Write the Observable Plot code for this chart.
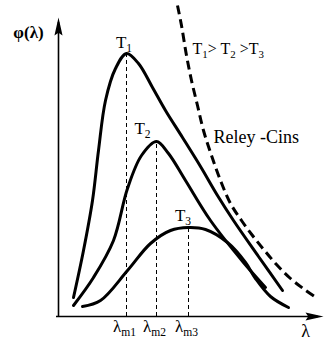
<!DOCTYPE html>
<html>
<head>
<meta charset="utf-8">
<script src="https://cdn.jsdelivr.net/npm/d3@7"></script>
<script src="https://cdn.jsdelivr.net/npm/@observablehq/plot@0.6"></script>
<style>
  html, body { margin: 0; padding: 0; background: #fff; }
  #chart svg { display: block; }
</style>
</head>
<body>
<div id="chart"></div>
<script>
// Planck radiation curves φ(λ) at three temperatures T1 > T2 > T3,
// with the Rayleigh–Jeans curve (dashed) for comparison. Units are arbitrary.
const temperatures = ["T_1", "T_2", "T_3"];
const peakLambda = [6.8, 9.8, 13.0];
const peakPhi = [26.3, 17.5, 8.9];
const peakTicks = ["λ_m1", "λ_m2", "λ_m3"];

// temperature label anchors (λ, φ)
const tempLabelLambda = [6.55, 8.4, 12.45];
const tempLabelPhi = [26.9, 18.3, 9.6];

const curveT1 = [
  [1.5, 1.9], [2.5, 6.6], [3.4, 11.6], [4.0, 16.6], [4.7, 21.6], [5.7, 24.8],
  [6.8, 26.3], [8.0, 25.3], [9.4, 22.9], [10.7, 20.6], [12.4, 17.9],
  [14.2, 15.0], [15.9, 12.1], [17.5, 9.6], [20.0, 6.0], [22.4, 2.6]
];
const curveT2 = [
  [1.5, 1.1], [3.5, 3.9], [5.5, 7.6], [6.9, 12.8], [8.3, 16.1], [9.8, 17.5],
  [11.0, 16.3], [12.7, 13.6], [15.2, 9.6], [18.5, 5.4], [20.7, 2.9]
];
const curveT3 = [
  [2.4, 1.0], [4.2, 1.6], [6.9, 4.6], [9.2, 7.3], [11.2, 8.6], [13.0, 8.9],
  [14.7, 8.7], [16.9, 7.4], [18.7, 5.4], [19.7, 3.8], [21.2, 2.0], [23.0, 0.9]
];
const rayleighJeans = [
  [11.9, 31.1], [12.3, 29.1], [12.8, 26.1], [13.3, 23.6], [13.9, 21.1],
  [14.5, 18.6], [15.3, 16.1], [16.2, 13.6], [17.2, 11.3], [18.3, 9.6],
  [19.4, 8.1], [20.6, 6.6], [21.8, 5.2], [23.2, 3.8], [24.6, 2.7], [25.9, 1.8]
];
const rayleighLabel = "Reley -Cins";
const orderLabel = "T_1> T_2 >T_3";
const xAxisLabel = "λ";
const yAxisLabel = "φ(λ)";

const xEnd = 26.5;   // arrow tip of the λ axis
const yEnd = 29.9;   // arrow tip of the φ axis

// narrow filled arrowhead, tip at the origin, body pointing down
const arrowHead = {
  draw(context, size) {
    const r = Math.sqrt(size / Math.PI);
    context.moveTo(0, 0);
    context.lineTo(r * 0.45, r * 2);
    context.lineTo(0, r * 1.7);
    context.lineTo(-r * 0.45, r * 2);
    context.closePath();
  }
};

const serif = "Liberation Serif, Times New Roman, serif";
const curveStyle = {curve: "catmull-rom", stroke: "black", strokeWidth: 3};

const chart = Plot.plot({
  width: 324,
  height: 342,
  marginLeft: 58,
  marginRight: 1,
  marginTop: 16,
  marginBottom: 26,
  x: {domain: [0, xEnd], axis: null},
  y: {domain: [0, 30], axis: null},
  style: {fontFamily: serif, background: "white", overflow: "visible"},
  marks: [
    // peak wavelength guides
    Plot.ruleX(peakLambda, {
      y1: 0, y2: (d, i) => peakPhi[i],
      stroke: "black", strokeWidth: 1, strokeDasharray: "4,3"
    }),
    // axes
    Plot.ruleY([0], {x1: -0.2, x2: xEnd - 0.5, stroke: "black", strokeWidth: 1.6}),
    Plot.ruleX([0], {y1: 0, y2: yEnd - 0.5, stroke: "black", strokeWidth: 1.6}),
    Plot.dot([[xEnd, 0]], {symbol: arrowHead, r: 9, fill: "black", stroke: "none", rotate: 90}),
    Plot.dot([[0, yEnd]], {symbol: arrowHead, r: 9, fill: "black", stroke: "none", rotate: 0}),
    // Planck curves
    Plot.line(curveT1, curveStyle),
    Plot.line(curveT2, curveStyle),
    Plot.line(curveT3, curveStyle),
    // Rayleigh–Jeans
    Plot.line(rayleighJeans, {
      curve: "catmull-rom", stroke: "black", strokeWidth: 3,
      strokeDasharray: "9,5", strokeLinecap: "butt"
    }),
    // labels
    Plot.text(temperatures, {
      x: (d, i) => tempLabelLambda[i], y: (d, i) => tempLabelPhi[i],
      text: d => d, textAnchor: "middle", lineAnchor: "bottom",
      fontSize: 17, fill: "black"
    }),
    Plot.text(peakTicks, {
      x: (d, i) => peakLambda[i], y: 0, dy: 15, dx: -2,
      text: d => d, textAnchor: "middle", lineAnchor: "bottom",
      fontSize: 17, fill: "black"
    }),
    Plot.text([orderLabel], {
      x: 13.4, y: 26.3, text: d => d, textAnchor: "start", lineAnchor: "bottom",
      fontSize: 16, fill: "black"
    }),
    Plot.text([rayleighLabel], {
      x: 15.5, y: 17.4, text: d => d, textAnchor: "start", lineAnchor: "bottom",
      fontSize: 18, fill: "black"
    }),
    Plot.text([xAxisLabel], {
      x: 24.7, y: 0, dy: 20, text: d => d, textAnchor: "middle", lineAnchor: "bottom",
      fontSize: 18, fill: "black"
    }),
    Plot.text([yAxisLabel], {
      x: 0, y: 27.9, dx: -30, text: d => d, textAnchor: "middle", lineAnchor: "bottom",
      fontSize: 17, fontWeight: "bold", fill: "black"
    })
  ]
});

// turn "_x" markers into subscript tspans
const SVGNS = "http://www.w3.org/2000/svg";
chart.querySelectorAll("text").forEach(t => {
  const s = t.textContent;
  if (!s.includes("_")) return;
  t.textContent = "";
  const parts = s.split(/_(\w+)/);
  const shift = 4;
  parts.forEach((p, i) => {
    if (!p) return;
    const ts = document.createElementNS(SVGNS, "tspan");
    ts.textContent = p;
    if (i % 2) {
      ts.setAttribute("dy", shift);
      ts.setAttribute("font-size", "0.68em");
    } else if (i > 0) {
      ts.setAttribute("dy", -shift);
    }
    t.appendChild(ts);
  });
});

document.getElementById("chart").appendChild(chart);
</script>
</body>
</html>
